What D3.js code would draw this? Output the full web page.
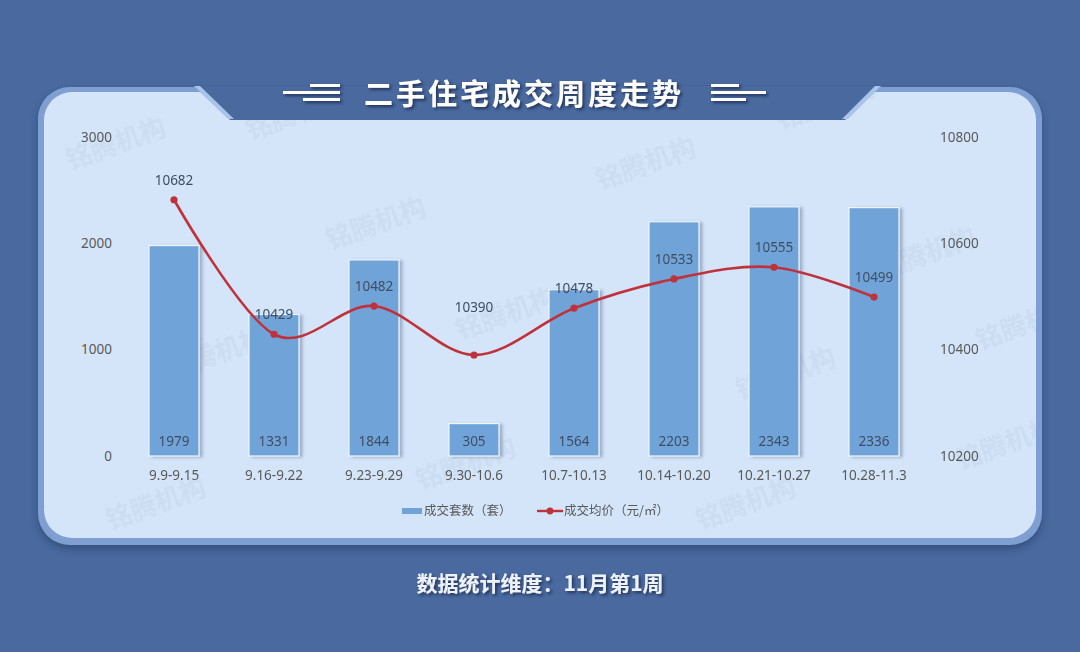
<!DOCTYPE html>
<html><head><meta charset="utf-8">
<script src="https://cdn.jsdelivr.net/npm/d3@7/dist/d3.min.js"></script>
<style>
html,body{margin:0;padding:0;background:#4a6a9f;}
svg{display:block;}
</style></head>
<body>
<script>
const categories = ["9.9-9.15","9.16-9.22","9.23-9.29","9.30-10.6","10.7-10.13","10.14-10.20","10.21-10.27","10.28-11.3"];
const volume = [1979,1331,1844,305,1564,2203,2343,2336];
const price = [10682,10429,10482,10390,10478,10533,10555,10499];
const leftTicks = [0,1000,2000,3000];
const rightTicks = [10200,10400,10600,10800];
const title = "二手住宅成交周度走势";
const footnote = "数据统计维度：11月第1周";
const legendLabels = ["成交套数（套）","成交均价（元/㎡）"];

const W = 1080, H = 652;
const svg = d3.select("body").append("svg").attr("width", W).attr("height", H);
const defs = svg.append("defs");
const f1 = defs.append("filter").attr("id","pshadow").attr("x","-5%").attr("y","-5%").attr("width","110%").attr("height","115%");
f1.append("feDropShadow").attr("dx",0).attr("dy",4).attr("stdDeviation",4).attr("flood-color","#1f3560").attr("flood-opacity",0.55);
const f2 = defs.append("filter").attr("id","bshadow").attr("x","-20%").attr("y","-10%").attr("width","150%").attr("height","120%");
f2.append("feDropShadow").attr("dx",3).attr("dy",1).attr("stdDeviation",1.5).attr("flood-color","#5a6f8f").attr("flood-opacity",0.45);
const f3 = defs.append("filter").attr("id","tshadow").attr("x","-10%").attr("y","-30%").attr("width","120%").attr("height","160%");
f3.append("feDropShadow").attr("dx",2).attr("dy",2).attr("stdDeviation",1.5).attr("flood-color","#17284a").attr("flood-opacity",0.8);
defs.append("clipPath").attr("id","pclip").append("rect")
  .attr("x",44).attr("y",92).attr("width",992).attr("height",446).attr("rx",28);

// background
svg.append("rect").attr("width",W).attr("height",H).attr("fill","#4a6a9f");

// panel
svg.append("rect").attr("x",38).attr("y",87).attr("width",1004).attr("height",458).attr("rx",32)
  .attr("fill","#7f9fd2").attr("filter","url(#pshadow)");
svg.append("rect").attr("x",44).attr("y",92).attr("width",992).attr("height",446).attr("rx",28)
  .attr("fill","#d4e5f9");

// very faint watermarks inside panel
const wm = svg.append("g").attr("clip-path","url(#pclip)").attr("fill","#b8cae2").attr("opacity",0.28)
  .style("font-family","'Noto Sans CJK SC'").style("font-weight","bold").style("font-size","26px");
[[70,170],[330,250],[600,190],[880,280],[170,380],[460,340],[740,400],[980,350],[110,530],[420,490],[700,530],[960,470],[250,140],[780,130]]
  .forEach(([x,y])=>{wm.append("text").attr("x",x).attr("y",y).attr("transform",`rotate(-20,${x},${y})`).text("铭腾机构");});

// title notch
svg.append("path").attr("d","M194,86 L230,120 L845,120 L881,86 Z").attr("fill","#4a6a9f");
svg.append("path").attr("d","M194,86 L200,86 L234,119 L228,119 Z").attr("fill","#a9c4ea");
svg.append("path").attr("d","M875,86 L881,86 L848,119 L842,119 Z").attr("fill","#a9c4ea");

// title
svg.append("text").attr("x",524).attr("y",105).attr("text-anchor","middle")
  .style("font-family","'Noto Sans CJK SC'").style("font-weight","bold").style("font-size","29px")
  .style("letter-spacing","3px").attr("fill","#ffffff").attr("filter","url(#tshadow)").text(title);
const deco = svg.append("g").attr("fill","#ffffff").attr("filter","url(#tshadow)");
deco.append("rect").attr("x",283).attr("y",91).attr("width",57).attr("height",3);
deco.append("rect").attr("x",310).attr("y",84).attr("width",30).attr("height",3);
deco.append("rect").attr("x",303).attr("y",98).attr("width",37).attr("height",3);
deco.append("rect").attr("x",711).attr("y",91).attr("width",55).attr("height",3);
deco.append("rect").attr("x",711).attr("y",84).attr("width",28).attr("height",3);
deco.append("rect").attr("x",711).attr("y",98).attr("width",35).attr("height",3);

// scales
const x = d3.scaleBand().domain(categories).range([124,924]).paddingInner(0.5).paddingOuter(0.25);
const yL = d3.scaleLinear().domain([0,3000]).range([456,137]);
const yR = d3.scaleLinear().domain([10200,10800]).range([456,137]);

const fontAxis = "'Noto Sans','DejaVu Sans',sans-serif";
const axisL = svg.append("g").attr("transform","translate(112,0)")
  .call(d3.axisLeft(yL).tickValues(leftTicks).tickSize(0).tickPadding(0).tickFormat(d3.format("d")));
const axisR = svg.append("g").attr("transform","translate(940,0)")
  .call(d3.axisRight(yR).tickValues(rightTicks).tickSize(0).tickPadding(0).tickFormat(d3.format("d")));
const axisB = svg.append("g").attr("transform","translate(0,456)")
  .call(d3.axisBottom(x).tickSize(0).tickPadding(12));
[axisL,axisR,axisB].forEach(a=>{
  a.select(".domain").remove();
  a.selectAll("text").attr("fill","#595959").style("font-family",fontAxis).style("font-size","13.5px");
});
axisB.selectAll("text").attr("dy","0.9em");

// bars
svg.append("g").selectAll("rect").data(volume).join("rect")
  .attr("x",(d,i)=>x(categories[i])).attr("width",x.bandwidth())
  .attr("y",d=>yL(d)).attr("height",d=>yL(0)-yL(d))
  .attr("fill","#6fa4d9").attr("stroke","#eef5fd").attr("stroke-width",1.2)
  .attr("filter","url(#bshadow)");
svg.append("g").selectAll("text").data(volume).join("text")
  .attr("x",(d,i)=>x(categories[i])+x.bandwidth()/2).attr("y",yL(0)-10)
  .attr("text-anchor","middle").attr("fill","#3f4d63")
  .style("font-family",fontAxis).style("font-size","13.5px").text(d=>d);

// line
const pts = price.map((d,i)=>[x(categories[i])+x.bandwidth()/2, yR(d)]);
svg.append("path").attr("d",d3.line().curve(d3.curveCardinal.tension(0))(pts))
  .attr("fill","none").attr("stroke","#c0323b").attr("stroke-width",2.6);
svg.append("g").selectAll("circle").data(pts).join("circle")
  .attr("cx",d=>d[0]).attr("cy",d=>d[1]).attr("r",3.6).attr("fill","#c0323b");
svg.append("g").selectAll("text").data(price).join("text")
  .attr("x",(d,i)=>pts[i][0]).attr("y",(d,i)=>pts[i][1] - (i===3 ? 43 : 15))
  .attr("text-anchor","middle").attr("fill","#3f4d63")
  .style("font-family",fontAxis).style("font-size","13.5px").text(d=>d);

// legend
const lg = svg.append("g").style("font-family","'Noto Sans CJK SC'").style("font-size","12.5px").attr("fill","#595959");
lg.append("rect").attr("x",402).attr("y",508).attr("width",20).attr("height",6).attr("fill","#6fa4d9");
lg.append("text").attr("x",424).attr("y",515).text(legendLabels[0]);
lg.append("line").attr("x1",537).attr("x2",563).attr("y1",511).attr("y2",511).attr("stroke","#c0323b").attr("stroke-width",2.4);
lg.append("circle").attr("cx",550).attr("cy",511).attr("r",3.4).attr("fill","#c0323b");
lg.append("text").attr("x",564).attr("y",515).text(legendLabels[1]);

// footnote
svg.append("text").attr("x",540).attr("y",591).attr("text-anchor","middle")
  .style("font-family","'Noto Sans CJK SC'").style("font-weight","bold").style("font-size","21px")
  .attr("fill","#eef3fb").attr("filter","url(#tshadow)").text(footnote);
</script>
</body></html>
